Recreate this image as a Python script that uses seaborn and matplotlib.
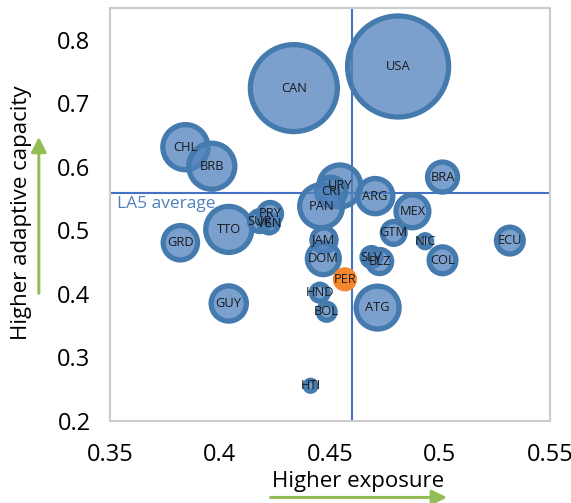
import matplotlib
matplotlib.use("Agg")
import matplotlib.pyplot as plt
import matplotlib.colors as mcolors
import pandas as pd
import seaborn as sns

# Country data
codes = ["USA", "CAN", "CHL", "BRB", "BRA", "URY", "CRI", "PAN", "ARG", "MEX",
         "GTM", "NIC", "ECU", "COL", "SLV", "BLZ", "JAM", "DOM", "PER", "HND",
         "BOL", "ATG", "HTI", "GUY", "GRD", "TTO", "SUR", "VEN", "PRY"]
exposure = [0.481, 0.4336, 0.3843, 0.3963, 0.5012, 0.4545, 0.4505, 0.446, 0.4706, 0.4875,
            0.479, 0.4933, 0.5318, 0.5012, 0.4689, 0.4726, 0.4473, 0.447, 0.4568, 0.4454,
            0.4485, 0.4717, 0.4412, 0.404, 0.382, 0.404, 0.4182, 0.4223, 0.4228]
capacity = [0.758, 0.724, 0.631, 0.601, 0.584, 0.570, 0.561, 0.538, 0.554, 0.530,
            0.496, 0.483, 0.484, 0.453, 0.458, 0.451, 0.485, 0.4555, 0.423, 0.402,
            0.372, 0.3785, 0.2555, 0.385, 0.4806, 0.5016, 0.5147, 0.511, 0.526]
bubble = [25.5, 18.9, 5.1, 5.3, 2.25, 4.4, 2.1, 4.6, 3.1, 2.7,
          1.3, 0.42, 1.8, 1.8, 0.9, 1.45, 1.45, 2.55, 0.9, 0.72,
          0.72, 4.6, 0.3, 3.1, 2.95, 5.3, 1.1, 0.9, 1.3]
avg_exposure = 0.46
avg_capacity = 0.559
highlight = "PER"

df = pd.DataFrame({"code": codes, "exposure": exposure,
                   "capacity": capacity, "bubble": bubble})
df["group"] = ["focus" if c == highlight else "other" for c in df["code"]]

sns.set_style("white")
plt.rcParams["font.family"] = ["Open Sans", "DejaVu Sans"]

fig = plt.figure(figsize=(5.71, 5.03), dpi=100)
ax = fig.add_axes([0.1926, 0.163, 0.7704, 0.821])

ax.axvline(avg_exposure, color="#4472c4", lw=1.5, zorder=1)
ax.axhline(avg_capacity, color="#4472c4", lw=1.5, zorder=1)

sns.scatterplot(data=df, x="exposure", y="capacity", size="bubble",
                sizes=(0, 207.36 * 30), size_norm=(0, 30),
                hue="group", palette={"other": "#4f81bd", "focus": "#f79646"},
                edgecolor="#447aad", linewidth=3.8, legend=False, ax=ax, zorder=2)

# semi-transparent fills, solid edges
coll = ax.collections[-1]
faces = []
for g in df["group"]:
    if g == "focus":
        faces.append(mcolors.to_rgba("#f5882f", 1.0))
    else:
        faces.append(mcolors.to_rgba("#4f81bd", 0.75))
coll.set_facecolors(faces)
coll.set_edgecolors(["#f5882f" if g == "focus" else "#447aad" for g in df["group"]])

for c, x, y in zip(codes, exposure, capacity):
    ax.text(x, y, c, ha="center", va="center", fontsize=9.3,
            color="#1a1a1a", zorder=5)

ax.text(0.353, 0.541, "LA5 average", color="#4f81bd", fontsize=12.5,
        ha="left", va="center", zorder=3)

ax.set_xlim(0.35, 0.55)
ax.set_ylim(0.2, 0.85)
ax.set_xticks([0.35, 0.4, 0.45, 0.5, 0.55])
ax.set_xticklabels(["0.35", "0.4", "0.45", "0.5", "0.55"])
ax.set_yticks([0.2, 0.3, 0.4, 0.5, 0.6, 0.7, 0.8])
ax.set_yticklabels(["0.2", "0.3", "0.4", "0.5", "0.6", "0.7", "0.8"])
ax.tick_params(direction="in", length=5, width=1, color="#c0c0c0",
               labelsize=17, labelcolor="#000000", pad=14)
ax.tick_params(axis="x", pad=16)
ax.set_xlabel("")
ax.set_ylabel("")
for s in ax.spines.values():
    s.set_color("#cccccc")
    s.set_linewidth(1.5)

fig.text(0.627, 0.042, "Higher exposure", fontsize=16, ha="center", va="center",
         color="#000000")
fig.text(0.038, 0.577, "Higher adaptive capacity", fontsize=16, ha="center",
         va="center", rotation=90, color="#000000")

green = "#92bd57"
ax.annotate("", xy=(0.068, 0.728), xytext=(0.068, 0.417),
            xycoords="figure fraction", textcoords="figure fraction",
            arrowprops=dict(arrowstyle="-|>,head_width=0.45,head_length=0.9",
                            color=green, lw=2.2, shrinkA=0, shrinkB=0),
            annotation_clip=False)
ax.annotate("", xy=(0.783, 0.011), xytext=(0.474, 0.011),
            xycoords="figure fraction", textcoords="figure fraction",
            arrowprops=dict(arrowstyle="-|>,head_width=0.45,head_length=0.9",
                            color=green, lw=2.2, shrinkA=0, shrinkB=0),
            annotation_clip=False)

fig.savefig("out.png", dpi=100)
